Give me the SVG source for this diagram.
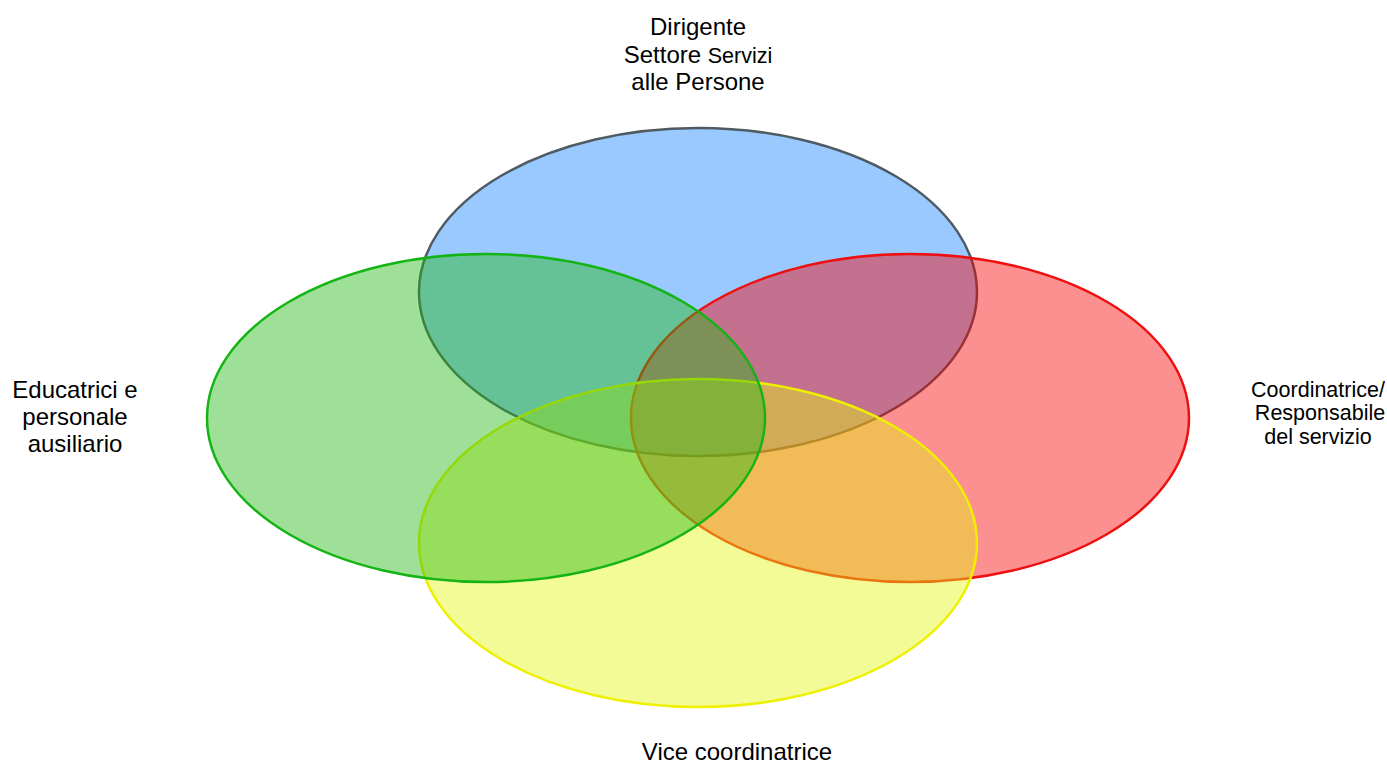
<svg xmlns="http://www.w3.org/2000/svg" width="1387" height="763" viewBox="0 0 1387 763">
<style>
.e{stroke-width:2.5;fill-opacity:0.44}
.t{font-family:"Liberation Sans",Arial,sans-serif;font-size:24px;fill:#000;text-anchor:middle}
.r{font-size:21.5px}
</style>
<rect width="1387" height="763" fill="#fff"/>
<g id="blue"><ellipse class="e" cx="698" cy="292" rx="279" ry="164" fill="#1784ff" stroke="#4f5a63"/></g>
<g id="red"><ellipse class="e" cx="910" cy="418" rx="279" ry="164" fill="#f80000" stroke="#ee1010"/></g>
<g id="yellow"><ellipse class="e" cx="698" cy="543" rx="279" ry="164" fill="#e4f613" stroke="#eef000"/></g>
<g id="green"><ellipse class="e" cx="486" cy="418" rx="279" ry="164" fill="#22b812" stroke="#14b414"/></g>
<g id="connectors"></g>
<g id="label-top"><text class="t" x="698" y="35">Dirigente</text><text class="t" x="698" y="63">Settore <tspan font-size="21.5">Servizi</tspan></text><text class="t" x="698" y="90">alle Persone</text></g>
<g id="label-left"><text class="t" x="75" y="398">Educatrici e</text><text class="t" x="75" y="425">personale</text><text class="t" x="75" y="452">ausiliario</text></g>
<g id="label-right"><text class="t r" x="1318" y="397">Coordinatrice/</text><text class="t r" x="1320" y="420">Responsabile</text><text class="t r" x="1318" y="444">del servizio</text></g>
<g id="label-bottom"><text class="t" x="737" y="760">Vice coordinatrice</text></g>
</svg>
